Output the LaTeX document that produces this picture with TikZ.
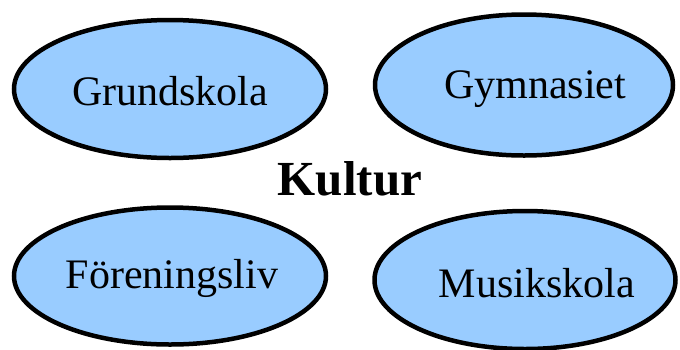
\documentclass[tikz,border=0pt]{standalone}
\usepackage{fontspec}
\setmainfont{Liberation Serif}
\usetikzlibrary{shapes.geometric}
\definecolor{ovalblue}{HTML}{99CCFF}
\begin{document}
\begin{tikzpicture}[x=1pt,y=-1pt,
  oval/.style={ellipse,draw=black,fill=ovalblue,line width=4.5pt,inner sep=0pt},
  lbl/.style={font=\fontsize{42}{44}\selectfont}]
\useasboundingbox (0,0) rectangle (680,349);
\node[oval,minimum width=312,minimum height=138] (g) at (170,89) {};
\node[oval,minimum width=298,minimum height=141] (y) at (524,85) {};
\node[oval,minimum width=312,minimum height=137] (f) at (170,276) {};
\node[oval,minimum width=301,minimum height=138] (m) at (525,280) {};
\node[lbl] (gt) at (170,91) {Grundskola};
\node[lbl] (yt) at (535,89) {Gymnasiet};
\node[lbl] (ft) at (172,278) {Föreningsliv};
\node[lbl] (mt) at (537,283) {Musikskola};
\node[font=\bfseries\fontsize{49}{52}\selectfont] (k) at (350,179) {Kultur};
\end{tikzpicture}
\end{document}
